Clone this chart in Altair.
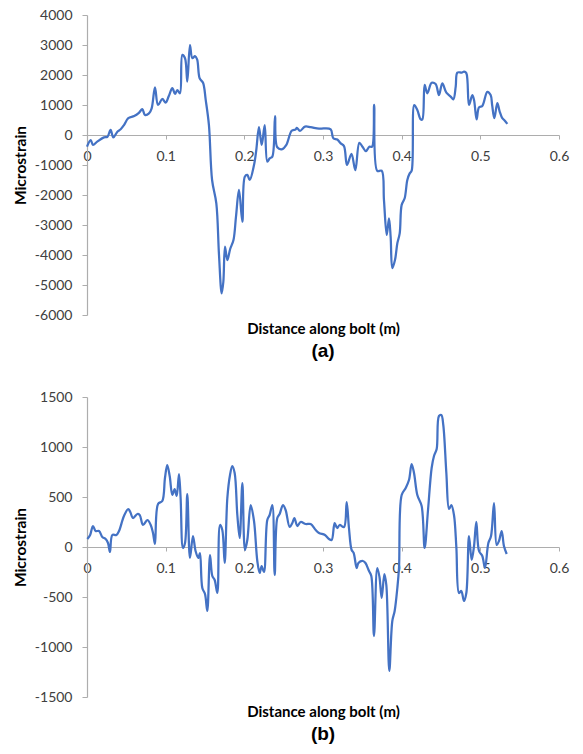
import altair as alt
import pandas as pd

# Panel (a): strain profile along the bolt
dist_a = [0.000, 0.0047, 0.0076, 0.013, 0.0216, 0.026, 0.030, 0.0335, 0.0386, 0.0428,
          0.047, 0.0525, 0.060, 0.066, 0.0703, 0.0737, 0.0788, 0.0822, 0.0864, 0.0903,
          0.0957, 0.100, 0.104, 0.1085, 0.1119, 0.1148, 0.1182, 0.1212, 0.1246, 0.1275,
          0.1309, 0.1339, 0.1373, 0.140, 0.1432, 0.1475, 0.1509, 0.155, 0.159, 0.1644,
          0.1678, 0.1712, 0.1733, 0.1754, 0.1784, 0.1820, 0.1862, 0.1894, 0.1932, 0.1975,
          0.2006, 0.2038, 0.2068, 0.2123, 0.2152, 0.2186, 0.2221, 0.2259, 0.2292, 0.2322,
          0.2356, 0.239, 0.2419, 0.2483, 0.2534, 0.2602, 0.2653, 0.2668, 0.2708, 0.2771,
          0.2843, 0.2949, 0.301, 0.3098, 0.3131, 0.3182, 0.3225, 0.3267, 0.3305, 0.3362,
          0.3411, 0.3462, 0.3504, 0.3546, 0.3589, 0.3623, 0.365, 0.369, 0.3746, 0.3775,
          0.381, 0.3839, 0.386, 0.3881, 0.3915, 0.3945, 0.3975, 0.400, 0.4038, 0.4072,
          0.4102, 0.4127, 0.416, 0.4199, 0.4242, 0.4263, 0.4292, 0.4326, 0.4381, 0.4432,
          0.4474, 0.4517, 0.4568, 0.4623, 0.4657, 0.4687, 0.4708, 0.4763, 0.4793, 0.4822,
          0.4856, 0.4898, 0.492, 0.4953, 0.4983, 0.5025, 0.5089, 0.5131, 0.515, 0.5178,
          0.5216, 0.5246, 0.5279, 0.530, 0.5343]
strain_a = [-390, -170, -330, -220, -80, -60, 170, -80, 110, 190,
            330, 560, 630, 740, 860, 670, 720, 890, 1590, 1000,
            1200, 1080, 1300, 1560, 1370, 1500, 1390, 2670, 2560, 1780,
            3000, 2560, 2630, 2520, 1890, 1740, 1170, 330, -1500, -2280,
            -4000, -5280, -4900, -3720, -4170, -3800, -3500, -2720, -1830, -2890,
            -1390, -1330, -1500, -1000, -500, 260, -330, 330, -890, -780,
            -720, 630, -410, -470, -330, 140, 190, 240, 140, 280,
            260, 210, 220, 190, -110, -150, -280, -370, -1000, -630,
            -1170, -260, -400, -540, -390, -390, 1000, -1200, -1190, -2170,
            -3330, -2780, -3400, -4440, -4170, -3610, -3280, -2330, -2110, -1500,
            -1280, -1190, 1000, 830, 520, 520, 1670, 1390, 1740, 1700,
            1330, 1720, 1410, 1280, 1190, 1610, 2080, 2080, 2110, 2060,
            1000, 1330, 1170, 520, 920, 970, 1440, 1330, 1000, 560,
            1060, 780, 560, 510, 370]

# Panel (b): strain profile along the bolt
dist_b = [0.0004, 0.004, 0.0076, 0.011, 0.0153, 0.0195, 0.0237, 0.0267, 0.0292, 0.0322,
          0.0373, 0.0407, 0.047, 0.0525, 0.055, 0.0585, 0.064, 0.067, 0.0712, 0.0767,
          0.081, 0.0839, 0.0864, 0.0903, 0.0957, 0.0991, 0.102, 0.1051, 0.1085, 0.1114,
          0.114, 0.1169, 0.119, 0.122, 0.1246, 0.1275, 0.1309, 0.1347, 0.138, 0.1415,
          0.1436, 0.1466, 0.150, 0.1529, 0.1564, 0.1593, 0.1623, 0.1657, 0.1691, 0.172,
          0.175, 0.1784, 0.1818, 0.1847, 0.1877, 0.1911, 0.1941, 0.1975, 0.2008, 0.2038,
          0.2081, 0.2123, 0.2165, 0.2195, 0.222, 0.225, 0.2292, 0.2322, 0.2356, 0.2386,
          0.2419, 0.2449, 0.2491, 0.2525, 0.2576, 0.261, 0.2636, 0.2674, 0.2716, 0.278,
          0.2843, 0.2907, 0.2949, 0.3025, 0.3076, 0.311, 0.3148, 0.318, 0.3212, 0.3267,
          0.3301, 0.333, 0.3364, 0.339, 0.3428, 0.345, 0.3508, 0.354, 0.3585, 0.3614,
          0.3648, 0.369, 0.3718, 0.3746, 0.378, 0.3805, 0.3843, 0.3881, 0.3911, 0.3945,
          0.3966, 0.400, 0.4051, 0.4093, 0.4127, 0.4157, 0.4199, 0.4254, 0.4292, 0.4335,
          0.4381, 0.4411, 0.4445, 0.4474, 0.4504, 0.4529, 0.4568, 0.4602, 0.4631, 0.4665,
          0.4695, 0.4729, 0.4758, 0.4792, 0.4822, 0.4856, 0.489, 0.492, 0.4949, 0.4983,
          0.5025, 0.5059, 0.5102, 0.5136, 0.5174, 0.5208, 0.5237, 0.5271, 0.530, 0.5335]
strain_b = [80, 120, 210, 160, 160, 100, 80, 40, -50, 120,
            120, 160, 310, 380, 350, 290, 330, 320, 220, 270,
            220, 140, 30, 430, 460, 690, 820, 710, 520, 580,
            510, 730, 490, -10, 40, 530, -110, 110, -40, -110,
            -60, -410, -470, -640, -80, -290, -330, -460, 220, 170,
            -160, 490, 720, 810, 740, 320, 90, 640, -30, 70,
            420, 260, -140, -260, -190, -250, 270, 320, 420, -280,
            290, 330, 420, 370, 200, 240, 290, 210, 250, 230,
            230, 170, 140, 120, 80, 70, 240, 190, 220, 200,
            450, 190, -30, -60, -210, -160, -140, -160, -240, -290,
            -890, -210, -300, -510, -270, -380, -1240, -740, -640, -410,
            -210, 520, 590, 670, 830, 740, 520, 410, -10, 370,
            790, 910, 980, 1310, 1320, 1220, 740, 380, 420, 320,
            0, -460, -440, -540, -460, 110, -130, 10, 250, -40,
            -90, -210, 40, 110, 440, 20, 60, 160, 10, -70]

x_ticks = [0, 0.1, 0.2, 0.3, 0.4, 0.5, 0.6]
y_ticks_a = [-6000, -5000, -4000, -3000, -2000, -1000, 0, 1000, 2000, 3000, 4000]
y_ticks_b = [-1500, -1000, -500, 0, 500, 1000, 1500]

LINE = "#4472C4"
AXIS_GREY = "#ADADAD"
TEXT = "#404040"
FONT = "Lato"
PLAIN_NUMBER = "'' + datum.value"  # plain numbers, hyphen-minus, no grouping


def panel(dist, strain, y_ticks, zero_offset, title_y, tag):
    df = pd.DataFrame({"distance": dist, "strain": strain})
    x_axis = alt.Axis(
        values=x_ticks, labelExpr=PLAIN_NUMBER, grid=False, offset=zero_offset,
        labelFlush=False, labelOverlap=False,
        title="Distance along bolt (m)", titleY=title_y, titleBaseline="top",
        titleFont=FONT, titleFontSize=15, titleFontWeight="bold", titleColor="#000000",
        labelFont=FONT, labelFontSize=14, labelColor=TEXT, labelPadding=10,
        tickSize=4, tickColor=AXIS_GREY, domainColor=AXIS_GREY, domainWidth=1.2,
    )
    y_axis = alt.Axis(
        values=y_ticks, labelExpr=PLAIN_NUMBER, grid=False, labelOverlap=False,
        title="Microstrain", titleX=-59,
        titleFont=FONT, titleFontSize=15.5, titleFontWeight="bold", titleColor="#000000",
        labelFont=FONT, labelFontSize=14, labelColor=TEXT, labelPadding=10,
        tickSize=5, tickColor=AXIS_GREY, domainColor=AXIS_GREY, domainWidth=1.2,
    )
    return (
        alt.Chart(
            df,
            title=alt.TitleParams(tag, orient="bottom", font="Liberation Sans",
                                  fontSize=19, fontWeight="bold", color="#000000",
                                  offset=6, anchor="middle"),
        )
        .mark_line(color=LINE, strokeWidth=2.25, interpolate="catmull-rom")
        .encode(
            x=alt.X("distance:Q", scale=alt.Scale(domain=[0, 0.6], nice=False, zero=False), axis=x_axis),
            y=alt.Y("strain:Q", scale=alt.Scale(domain=[y_ticks[0], y_ticks[-1]], nice=False), axis=y_axis),
        )
        .properties(width=472, height=300)
    )


top = panel(dist_a, strain_a, y_ticks_a, -180, 186, "(a)")
bottom = panel(dist_b, strain_b, y_ticks_b, -150, 157, "(b)")

chart = (
    alt.vconcat(top, bottom, spacing=29)
    .properties(padding={"top": 8, "left": 13, "right": 5, "bottom": 5}, background="white")
    .configure_view(stroke=None)
)

chart.save("out.html", embed_options={"renderer": "svg", "actions": False})
